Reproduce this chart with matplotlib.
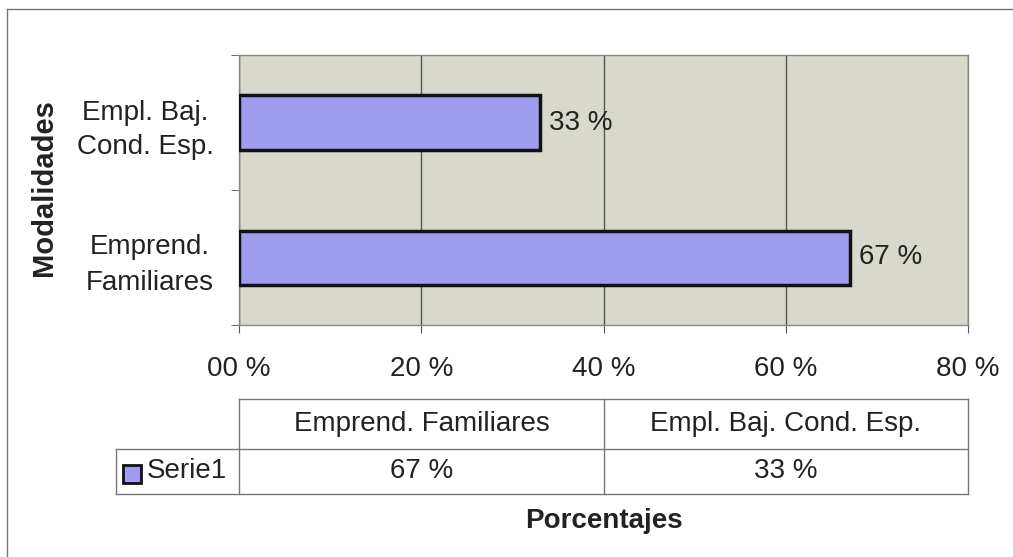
import matplotlib
matplotlib.use("Agg")
import matplotlib.pyplot as plt
from matplotlib.patches import Rectangle
from matplotlib.lines import Line2D

categories = ["Emprend.\nFamiliares", "Empl. Baj.\nCond. Esp."]
table_headers = ["Emprend. Familiares", "Empl. Baj. Cond. Esp."]
values = [67, 33]
series_name = "Serie1"
xticks = [0, 20, 40, 60, 80]

plt.rcParams['font.family'] = ['Liberation Sans', 'DejaVu Sans']
W, H = 1013, 557
fig = plt.figure(figsize=(W / 100, H / 100), dpi=100)
fig.patch.set_facecolor("white")

def fx(px):
    return px / W

def fy(py):
    return 1 - py / H

bar_color = "#a09cf0"
txt = "#222222"
fs = 20

# plot area
L, R, T, B = 239, 968, 55, 325
ax = fig.add_axes([fx(L), fy(B), fx(R) - fx(L), fy(T) - fy(B)])
ax.set_facecolor("#d8d8cc")
ypos = list(range(len(categories)))
ax.barh(ypos, values, height=0.4, color=bar_color, edgecolor="#111111", linewidth=2.5, zorder=3)
ax.set_xlim(0, 80)
ax.set_ylim(-0.5, len(categories) - 0.5)
ax.set_xticks(xticks)
ax.set_xticklabels([f"{v:02d} %" for v in xticks], fontsize=fs, color=txt)
ax.set_yticks(ypos)
ax.set_yticklabels(categories, fontsize=fs, color=txt, linespacing=1.45, multialignment="center")
ax.tick_params(axis="y", which="major", length=0, pad=18)
ax.set_yticks([i - 0.5 for i in range(len(categories) + 1)], minor=True)
ax.tick_params(axis="y", which="minor", length=6, direction="out", color="#555555")
ax.tick_params(axis="x", length=6, direction="out", color="#555555", pad=16)
ax.grid(axis="x", color="#555555", linewidth=1, zorder=1)
for s in ax.spines.values():
    s.set_color("#888888")
    s.set_linewidth(1)
for y, v in zip(ypos, values):
    ax.text(v + 1, y, f"{v} %", va="center", ha="left", fontsize=fs, color=txt, zorder=4)

# overlay for table, axis titles and border
ov = fig.add_axes([0, 0, 1, 1], facecolor="none")
ov.set_xlim(0, W)
ov.set_ylim(H, 0)
ov.axis("off")

lc = "#777777"
lw = 1
# outer border (left and top)
ov.add_line(Line2D([7, 7], [9, H], color="#777777", lw=1))
ov.add_line(Line2D([7, W], [9, 9], color="#777777", lw=1))

col_x = [239, 604, 968]
row_y = [399, 449, 494]
leg_x = 116
ov.add_line(Line2D([col_x[0], col_x[-1]], [row_y[0], row_y[0]], color=lc, lw=lw))
ov.add_line(Line2D([leg_x, col_x[-1]], [row_y[1], row_y[1]], color=lc, lw=lw))
ov.add_line(Line2D([leg_x, col_x[-1]], [row_y[2], row_y[2]], color=lc, lw=lw))
for x in col_x:
    ov.add_line(Line2D([x, x], [row_y[0], row_y[2]], color=lc, lw=lw))
ov.add_line(Line2D([leg_x, leg_x], [row_y[1], row_y[2]], color=lc, lw=lw))

for i, (h, v) in enumerate(zip(table_headers, values)):
    cx = (col_x[i] + col_x[i + 1]) / 2
    ov.text(cx, (row_y[0] + row_y[1]) / 2, h, ha="center", va="center", fontsize=fs, color=txt)
    ov.text(cx, (row_y[1] + row_y[2]) / 2, f"{v} %", ha="center", va="center", fontsize=fs, color=txt)

# legend key
ov.add_patch(Rectangle((123, 465), 18, 18, facecolor=bar_color, edgecolor="#111111", lw=2))
ov.text(147, (row_y[1] + row_y[2]) / 2, series_name, ha="left", va="center", fontsize=fs, color=txt)

# axis titles
ov.text(604, 521, "Porcentajes", ha="center", va="center", fontsize=fs, fontweight="bold", color=txt)
ov.text(44, 188, "Modalidades", ha="center", va="center", rotation=90, fontsize=21, fontweight="bold", color=txt)

fig.savefig("out.png", dpi=100, facecolor="white")
